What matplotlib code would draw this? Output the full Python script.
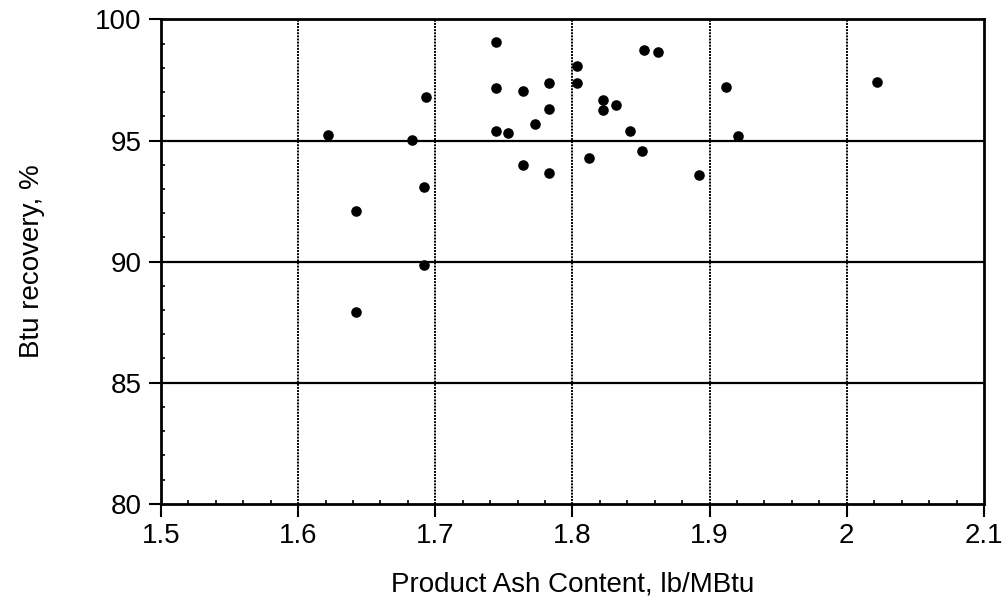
import matplotlib
matplotlib.use("Agg")
import matplotlib.pyplot as plt
from matplotlib.ticker import MultipleLocator

plt.rcParams['font.family'] = ['Liberation Sans', 'DejaVu Sans']

ash = [1.744, 1.693, 1.622, 1.683, 1.744, 1.764, 1.744, 1.753, 1.773, 1.764,
       1.692, 1.642, 1.692, 1.642,
       1.852, 1.862, 1.803, 1.783, 1.803, 1.912, 2.022, 1.783, 1.822, 1.822,
       1.832, 1.842, 1.921, 1.812, 1.851, 1.783, 1.892]
recovery = [99.06, 96.79, 95.23, 95.01, 97.16, 97.06, 95.39, 95.30, 95.68, 93.97,
            93.07, 92.07, 89.87, 87.94,
            98.74, 98.64, 98.07, 97.38, 97.36, 97.22, 97.42, 96.29, 96.67, 96.26,
            96.47, 95.39, 95.19, 94.28, 94.58, 93.67, 93.56]

x_ticks = [1.5, 1.6, 1.7, 1.8, 1.9, 2.0, 2.1]
x_tick_labels = ["1.5", "1.6", "1.7", "1.8", "1.9", "2", "2.1"]
y_ticks = [80, 85, 90, 95, 100]

fig = plt.figure(figsize=(10.03, 6.07), dpi=100)
ax = fig.add_axes([0.1605, 0.170, 0.8205, 0.798])

ax.set_xlim(1.5, 2.1)
ax.set_ylim(80, 100)

for yv in y_ticks[1:-1]:
    ax.axhline(yv, color='black', lw=1.6, zorder=1)
for xv in x_ticks[1:-1]:
    ax.axvline(xv, color='black', lw=1.4, ls=(0, (1, 0.6)), zorder=1)

ax.scatter(ash, recovery, s=58, color='black', zorder=3, linewidths=0)

ax.set_xticks(x_ticks)
ax.set_xticklabels(x_tick_labels)
ax.set_yticks(y_ticks)
ax.xaxis.set_minor_locator(MultipleLocator(0.02))
ax.yaxis.set_minor_locator(MultipleLocator(1))
ax.tick_params(which='major', direction='out', length=9, width=1.5, labelsize=20, pad=5)
ax.tick_params(which='minor', direction='in', length=3, width=1.2)
ax.tick_params(axis='y', which='both', right=False)
ax.tick_params(axis='x', which='both', top=False)

for sp in ax.spines.values():
    sp.set_linewidth(2)
    sp.set_color('black')

ax.set_xlabel("Product Ash Content, lb/MBtu", fontsize=20, labelpad=16)
ax.set_ylabel("Btu recovery, %", fontsize=20, labelpad=36)

fig.savefig("out.png", dpi=100)
